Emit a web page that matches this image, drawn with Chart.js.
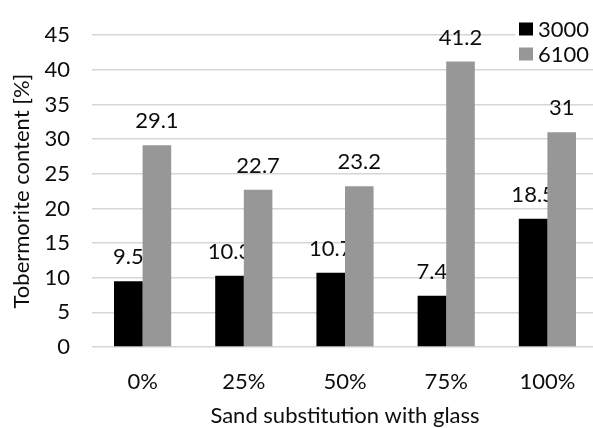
<!DOCTYPE html>
<html>
<head>
<meta charset="utf-8">
<script src="https://cdn.jsdelivr.net/npm/chart.js@4/dist/chart.umd.min.js"></script>
<style>
  html, body { margin: 0; padding: 0; background: #fff; overflow: hidden; }
  #wrap { width: 600px; height: 428px; position: relative; }
</style>
</head>
<body>
<div id="wrap"><canvas id="c"></canvas></div>
<script>
// Tobermorite content by sand substitution level, for two autoclave settings
const categories = ['0%', '25%', '50%', '75%', '100%'];
const seriesNames = ['3000', '6100'];
const series3000 = [9.5, 10.3, 10.7, 7.4, 18.5];
const series6100 = [29.1, 22.7, 23.2, 41.2, 31];
const yTicks = [0, 5, 10, 15, 20, 25, 30, 35, 40, 45];

const FONT = 'Lato, "Open Sans", sans-serif';
const SIZE = 22;
const TEXT = '#0d0d0d';

function drawLabels(chart, index) {
  const { ctx } = chart;
  const ds = chart.data.datasets[index];
  const meta = chart.getDatasetMeta(index);
  ctx.save();
  ctx.font = SIZE + 'px ' + FONT;
  ctx.fillStyle = TEXT;
  ctx.textAlign = 'center';
  ctx.textBaseline = 'alphabetic';
  meta.data.forEach((bar, i) => {
    ctx.fillText(String(ds.data[i]), bar.x, bar.y - 17);
  });
  ctx.restore();
}

// value labels: the first series' labels go down before the bars,
// so the neighbouring grey bars sit on top of them
const valueLabels = {
  id: 'valueLabels',
  beforeDatasetsDraw(chart) { drawLabels(chart, 0); },
  afterDatasetsDraw(chart) { drawLabels(chart, 1); }
};

// legend box in the upper right corner, on a white background
const cornerLegend = {
  id: 'cornerLegend',
  afterDraw(chart) {
    const { ctx } = chart;
    ctx.save();
    ctx.fillStyle = '#fff';
    ctx.fillRect(515, 14, 85, 52);
    ctx.font = SIZE + 'px ' + FONT;
    ctx.textBaseline = 'middle';
    ctx.textAlign = 'left';
    chart.data.datasets.forEach((ds, i) => {
      const y = 29 + i * 25;
      ctx.fillStyle = ds.backgroundColor;
      ctx.fillRect(519, y - 6.5, 14, 13);
      ctx.fillStyle = TEXT;
      ctx.fillText(ds.label, 538, y + 1);
    });
    ctx.restore();
  }
};

new Chart(document.getElementById('c'), {
  type: 'bar',
  data: {
    labels: categories,
    datasets: [
      { label: seriesNames[0], data: series3000, backgroundColor: '#000000' },
      { label: seriesNames[1], data: series6100, backgroundColor: '#979797' }
    ]
  },
  options: {
    responsive: true,
    maintainAspectRatio: false,
    animation: false,
    datasets: { bar: { categoryPercentage: 0.565, barPercentage: 1.0 } },
    layout: { padding: { left: 0, right: 2, top: 22, bottom: 0 } },
    plugins: { legend: { display: false }, tooltip: { enabled: false } },
    scales: {
      x: {
        grid: { display: false, drawTicks: false },
        border: { display: false },
        ticks: { color: TEXT, font: { family: FONT, size: SIZE }, padding: 22 },
        title: {
          display: true, text: 'Sand substitution with glass',
          color: TEXT, font: { family: FONT, size: SIZE }, padding: { top: 0, bottom: -1 }
        },
        afterFit(scale) { scale.height = 81; }
      },
      y: {
        min: 0, max: 45,
        afterBuildTicks(scale) { scale.ticks = yTicks.map(v => ({ value: v })); },
        grid: { color: '#d6d6d6', lineWidth: 1.5, drawTicks: false },
        border: { display: false },
        ticks: { color: TEXT, font: { family: FONT, size: SIZE }, padding: 22 },
        title: {
          display: true, text: 'Tobermorite content [%]',
          color: TEXT, font: { family: FONT, size: SIZE }, padding: { top: 9, bottom: 0 }
        },
        afterFit(scale) { scale.width = 92; }
      }
    }
  },
  plugins: [valueLabels, cornerLegend]
});
</script>
</body>
</html>
